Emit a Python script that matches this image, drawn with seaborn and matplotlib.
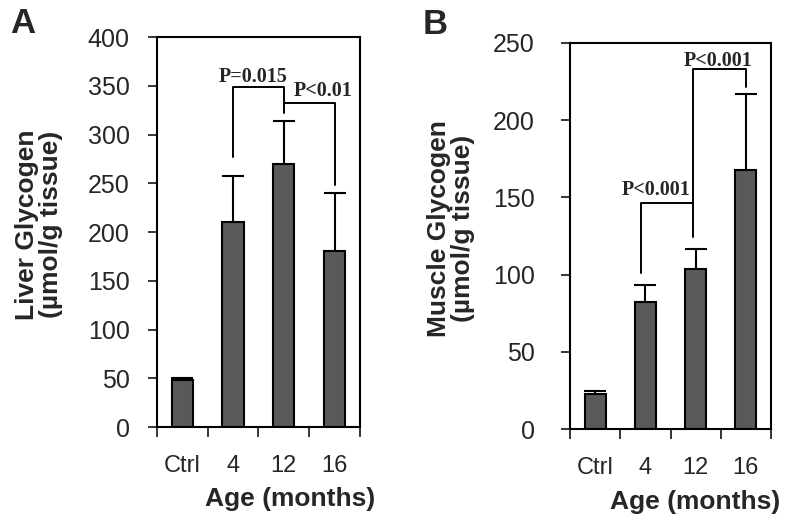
import numpy as np
import pandas as pd
import matplotlib
matplotlib.use("Agg")
import matplotlib.pyplot as plt
import seaborn as sns

# data
ages = ["Ctrl", "4", "12", "16"]
liver_mean = [48, 210, 270, 181]
liver_err = [2, 48, 44, 59]
muscle_mean = [23, 82, 104, 168]
muscle_err = [1.5, 11, 12.5, 49]

sns.set_style("ticks")
plt.rcParams["font.family"] = ["Liberation Sans", "DejaVu Sans"]

fig = plt.figure(figsize=(7.92, 5.24), dpi=100)
axA = fig.add_axes([0.198, 0.185, 0.2565, 0.744])
axB = fig.add_axes([0.7197, 0.181, 0.2538, 0.737])

def draw_panel(ax, means, errs, ymax, ystep, ylabel, ypad):
    df = pd.DataFrame({"age": ages, "val": means})
    sns.barplot(data=df, x="age", y="val", order=ages, color="#595959",
                saturation=1, edgecolor="black", linewidth=1.5, width=0.42, ax=ax)
    eb = ax.errorbar(range(len(ages)), means, yerr=[np.zeros(len(errs)), errs],
                     fmt="none", ecolor="black", elinewidth=1.5, capsize=8, capthick=1.5)
    eb[1][0].set_visible(False)
    ax.set_xlim(-0.5, 3.5)
    ax.set_ylim(0, ymax)
    ax.set_yticks(np.arange(0, ymax + 1, ystep))
    ax.set_xticks([-0.5, 0.5, 1.5, 2.5, 3.5], minor=True)
    ax.tick_params(axis="x", which="major", length=0, labelsize=17, pad=20)
    ax.tick_params(axis="x", which="minor", length=7, width=1.3, direction="out")
    ax.tick_params(axis="y", length=6.5, width=1.3, direction="out", labelsize=18, pad=ypad)
    for s in ax.spines.values():
        s.set_visible(True)
        s.set_linewidth(1.5)
        s.set_color("black")
    ax.set_xlabel("Age (months)", fontsize=19, fontweight="bold")
    ax.set_ylabel(ylabel, fontsize=19, fontweight="bold", linespacing=1.0)

draw_panel(axA, liver_mean, liver_err, 400, 50,
           "Liver Glycogen\n(\u00b5mol/g tissue)", 13)
draw_panel(axB, muscle_mean, muscle_err, 250, 50,
           "Muscle Glycogen\n(\u00b5mol/g tissue)", 19)

axA.xaxis.set_label_coords(0.655, -0.154)
axB.xaxis.set_label_coords(0.62, -0.158)
axA.yaxis.set_label_coords(-0.463, 0.52)
axB.yaxis.set_label_coords(-0.473, 0.52)

ptxt = dict(family="Liberation Serif", fontweight="bold", fontsize=14.5,
            ha="center", va="baseline")
blk = dict(color="black", lw=1.4)

# significance brackets, panel A
axA.plot([1, 1, 2, 2], [277, 349, 349, 322], **blk)
axA.plot([2, 3, 3], [333, 333, 248], **blk)
axA.text(1.39, 354, "P=0.015", **ptxt)
axA.text(2.77, 340, "P<0.01", **ptxt)

# significance brackets, panel B
axB.plot([0.92, 0.92, 1.95], [101, 146.4, 146.4], **blk)
axB.plot([1.95, 1.95, 3.0, 3.0], [124.4, 233, 233, 221.5], **blk)
axB.text(1.21, 151.5, "P<0.001", **ptxt)
axB.text(2.45, 235, "P<0.001", **ptxt)

fig.text(0.0126, 0.987, "A", fontsize=25, fontweight="bold", va="top", ha="left")
fig.text(0.533, 0.985, "B", fontsize=25, fontweight="bold", va="top", ha="left")

fig.savefig("out.png", dpi=100)
